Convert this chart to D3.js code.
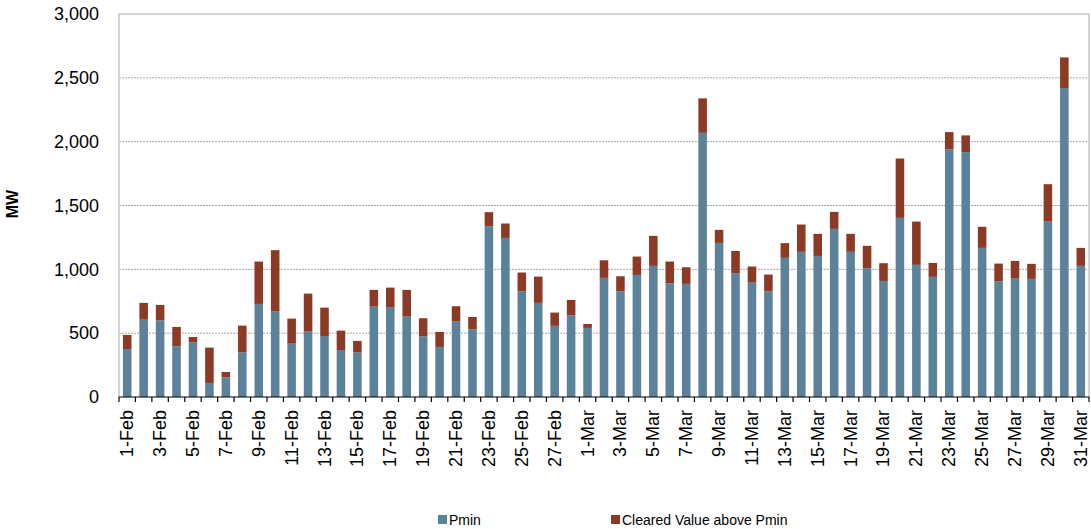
<!DOCTYPE html>
<html>
<head>
<meta charset="utf-8">
<script src="https://cdn.jsdelivr.net/npm/d3@7"></script>
<style>
  body { margin: 0; background: #fff; }
  svg { font-family: "Liberation Sans", Arial, sans-serif; display: block; }
</style>
</head>
<body>
<div id="chart"></div>
<script>
// days: 1-Feb .. 28-Feb, 1-Mar .. 31-Mar
const days = [];
for (let i = 1; i <= 28; i++) days.push(i + "-Feb");
for (let i = 1; i <= 31; i++) days.push(i + "-Mar");

// Pmin (MW)
const pmin = [
  376, 606, 601, 397, 429, 110, 154, 350, 729, 669,
  418, 512, 478, 368, 350, 708, 700, 630, 476, 392,
  591, 530, 1338, 1246, 828, 737, 557, 638,
  541, 933, 828, 956, 1027, 891, 886, 2069, 1207, 969,
  896, 828, 1090, 1137, 1105, 1317, 1137, 1009, 909, 1403,
  1035, 941, 1939, 1918, 1168, 907, 928, 925, 1374, 2420, 1027
];

// total cleared (MW), top of each stacked bar
const total = [
  486, 737, 721, 549, 470, 387, 196, 559, 1061, 1150,
  614, 810, 700, 520, 439, 839, 857, 839, 617, 510,
  711, 627, 1448, 1359, 975, 943, 661, 760,
  572, 1071, 946, 1100, 1262, 1061, 1016, 2339, 1309, 1144,
  1022, 959, 1205, 1351, 1278, 1450, 1278, 1184, 1048, 1868,
  1374, 1050, 2075, 2049, 1333, 1045, 1066, 1043, 1667, 2660, 1168
];

const yTicks = [0, 500, 1000, 1500, 2000, 2500, 3000];
const seriesNames = ["Pmin", "Cleared Value above Pmin"];
const colors = ["#5b8299", "#8b3b25"];

const W = 1091, H = 529;
const margin = { top: 14, right: 2, bottom: 132, left: 119 };
const width = W - margin.left - margin.right,
      height = H - margin.top - margin.bottom;

const data = days.map((d, i) => ({ day: d, pmin: pmin[i], above: total[i] - pmin[i] }));
const stack = d3.stack().keys(["pmin", "above"])(data);

const svg = d3.select("#chart").append("svg")
    .attr("width", W).attr("height", H);
const g = svg.append("g").attr("transform", `translate(${margin.left},${margin.top})`);

const x = d3.scaleBand().domain(days).range([0, width]).paddingInner(0.48).paddingOuter(0.24);
const y = d3.scaleLinear().domain([0, 3000]).range([height, 0]);

// gridlines
g.selectAll(".grid")
  .data(yTicks.filter(t => t > 0 && t < 3000))
  .join("line")
  .attr("x1", 0).attr("x2", width)
  .attr("y1", d => y(d)).attr("y2", d => y(d))
  .attr("stroke", "#a6a6a6")
  .attr("stroke-dasharray", "2,1")
  .attr("stroke-width", 1);

// plot box (top, right, left)
g.append("path")
  .attr("d", `M0,${height}V0H${width}V${height}`)
  .attr("fill", "none")
  .attr("stroke", "#c8c8c8")
  .attr("stroke-width", 1.5);

// bars
g.selectAll(".series")
  .data(stack)
  .join("g")
  .attr("fill", (d, i) => colors[i])
  .selectAll("rect")
  .data(d => d)
  .join("rect")
  .attr("x", d => x(d.data.day))
  .attr("width", x.bandwidth())
  .attr("y", d => y(d[1]))
  .attr("height", d => y(d[0]) - y(d[1]));

// y axis labels
const yAxis = g.append("g")
  .call(d3.axisLeft(y).tickValues(yTicks).tickFormat(d3.format(",")).tickSize(0).tickPadding(20));
yAxis.select(".domain").remove();
yAxis.selectAll("text").attr("font-size", 18).attr("fill", "#000")
  .attr("font-family", "Liberation Sans, Arial, sans-serif");

// x axis: ticks at band boundaries, labels on alternate days
const step = x.step();
const xg = g.append("g").attr("transform", `translate(0,${height})`);
xg.append("line").attr("x1", 0).attr("x2", width).attr("stroke", "#000").attr("stroke-width", 1.2);
xg.selectAll(".tick")
  .data(d3.range(days.length + 1))
  .join("line")
  .attr("x1", i => i * step).attr("x2", i => i * step)
  .attr("y1", 0).attr("y2", 5)
  .attr("stroke", "#000").attr("stroke-width", 1.2);
xg.selectAll(".lab")
  .data(days.filter((d, i) => i % 2 === 0))
  .join("text")
  .attr("transform", d => `translate(${x(d) + x.bandwidth() / 2 + 6},13) rotate(-90)`)
  .attr("text-anchor", "end")
  .attr("font-size", 18)
  .text(d => d);

// y axis title
svg.append("text")
  .attr("transform", `translate(18,204) rotate(-90)`)
  .attr("text-anchor", "middle")
  .attr("font-size", 16)
  .attr("font-weight", "bold")
  .text("MW");

// legend
const legendX = [438, 611];
const legend = svg.selectAll(".legend")
  .data(seriesNames)
  .join("g")
  .attr("transform", (d, i) => `translate(${legendX[i]},515)`);
legend.append("rect").attr("width", 9).attr("height", 9).attr("fill", (d, i) => colors[i]);
legend.append("text").attr("x", 11).attr("y", 9.5).attr("font-size", 14).text(d => d);
</script>
</body>
</html>
